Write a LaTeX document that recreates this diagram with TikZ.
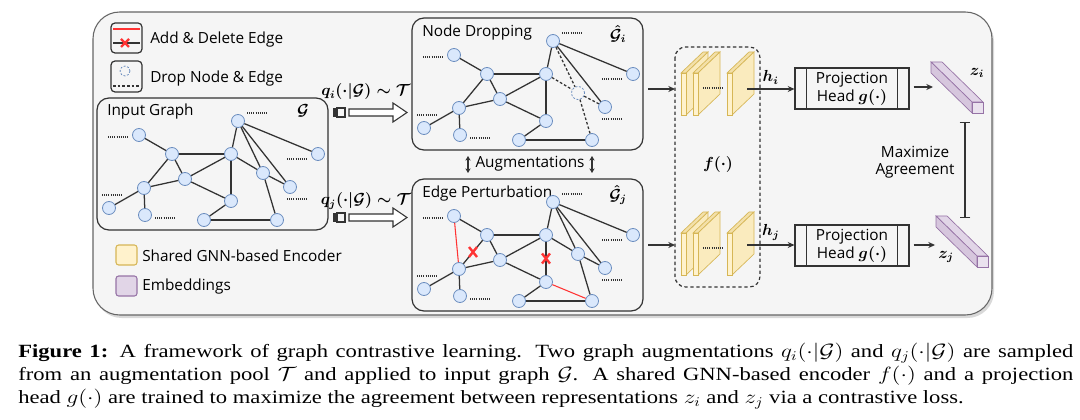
\documentclass[tikz,border=0pt]{standalone}
\usepackage{amsmath,amssymb}
\usepackage{fontspec}
\setmainfont{Liberation Serif}
\setsansfont{Open Sans}
\usepackage{xcolor}
\usetikzlibrary{calc,arrows.meta}
\definecolor{ink}{HTML}{333333}
\definecolor{bgfill}{HTML}{F5F5F5}
\definecolor{bgline}{HTML}{666666}
\definecolor{nodefill}{HTML}{DAE8FC}
\definecolor{nodeline}{HTML}{6C8EBF}
\definecolor{edgered}{HTML}{FF3333}
\definecolor{encfill}{HTML}{FFF2CC}
\definecolor{encline}{HTML}{D6B656}
\definecolor{embfill}{HTML}{E1D5E7}
\definecolor{embline}{HTML}{9673A6}
\tikzset{
  outer/.style={draw=bgline, fill=bgfill, line width=0.8pt, rounded corners=20pt},
  gbox/.style={draw=ink, line width=0.9pt, rounded corners=9pt},
  gnode/.style={circle, draw=nodeline, fill=nodefill, line width=0.6pt, minimum size=9.75pt, inner sep=0pt},
  dropnode/.style={circle, draw=nodeline, dash pattern=on 1.5pt off 1.2pt, line width=0.6pt, minimum size=9.75pt, inner sep=0pt},
  gedge/.style={draw=ink, line width=0.95pt},
  dropedge/.style={draw=ink, line width=0.95pt, dash pattern=on 2pt off 1.5pt},
  addedge/.style={draw=edgered, line width=0.8pt},
  delmark/.style={draw=edgered, line width=1.8pt},
  dots/.style={draw=ink, line width=1pt, dash pattern=on 0.8pt off 0.8pt},
  lab/.style={font=\sffamily\fontsize{11.5}{13}\selectfont, text=black, inner sep=0pt},
  mlab/.style={font=\fontsize{11.5}{13}\selectfont, text=black, inner sep=0pt},
  legbox/.style={draw=ink, line width=0.9pt, rounded corners=3pt},
  conn/.style={-{Stealth[length=5pt,width=4.5pt]}, draw=ink, line width=0.9pt},
  projbox/.style={draw=ink, line width=0.9pt, minimum width=85.5pt, minimum height=30.75pt, inner sep=0pt, align=center, font=\sffamily\fontsize{11.5}{13.5}\selectfont},
  slabfront/.style={fill=encfill, draw=encline, line width=0.5pt},
  slabside/.style={fill=encfill!88!encline, draw=encline, line width=0.5pt},
  slabtop/.style={fill=encfill!70!encline, draw=encline, line width=0.5pt},
  embfront/.style={fill=embfill!70!white, draw=embline, line width=0.5pt},
  embtop/.style={fill=embfill, draw=embline, line width=0.5pt},
  embside/.style={fill=embfill!85!embline, draw=embline, line width=0.5pt}
}
% one graph: 13 nodes, node 8 with its own style, and the dotted stubs
\newcommand{\graphnodes}[2]{%
  \foreach \k/\x/\y in {1/139/135, 2/172/154, 3/231/154, 4/238/121, 5/318/154,
      6/185/179, 7/144/188, 9/290/187, 10/109/208, 11/145/215,
      12/231/201, 13/204/220, 14/277/220}
    \node[gnode] (#1-\k) at (\x,\y) {};
  \node[#2] (#1-8) at (263,173) {};
  \foreach \x/\y in {118/137, 257/113, 297/159, 112/195, 165/218, 297/199}
    \draw[dots] (\x-10,\y) -- (\x+10,\y);
}
\newcommand{\coreedges}{1/2, 2/3, 2/6, 3/4, 3/6, 4/5, 4/9, 6/7, 6/12, 7/10, 7/11, 12/13, 13/14}
\newcommand{\dropedges}{3/8, 4/8, 8/9, 8/14}
% encoder slab, front strip top-left at (#1,#2)
\newcommand{\slab}[2]{%
  \filldraw[slabtop] (#1,#2) -- ++(5,0) -- ++(22,-21) -- ++(-5,0) -- cycle;
  \filldraw[slabside] (#1+5,#2) -- ++(22,-21) -- ++(0,42) -- ++(-22,21) -- cycle;
  \filldraw[slabfront] (#1,#2) rectangle ++(5,42);
}
% embedding bar, front square top-left at (#1,#2)
\newcommand{\embbar}[2]{%
  \filldraw[embtop] (#1,#2) -- ++(11,0) -- ++(-41,-40) -- ++(-11,0) -- cycle;
  \filldraw[embside] (#1,#2) -- ++(0,11) -- ++(-41,-40) -- ++(0,-11) -- cycle;
  \filldraw[embfront] (#1,#2) rectangle ++(11,11);
}

\begin{document}
\begin{tikzpicture}[x=0.75pt, y=-0.75pt]
  \useasboundingbox[fill=white] (0,0) rectangle (1080,420);

  % frame
  \fill[black!15, rounded corners=20pt] (95,15) rectangle (994,318);
  \draw[outer] (93,12) rectangle (992,315);

  % legend
  \draw[legbox] (111,23) rectangle (142,53);
  \draw[addedge] (113,29) -- (140,29);
  \draw[gedge] (113,43) -- (140,43);
  \draw[delmark] (125,43) +(-4,-4) -- +(4,4) +(-4,4) -- +(4,-4);
  \node[lab, anchor=west] (leg-edge) at (150,40) {Add \& Delete Edge};
  \draw[legbox] (111,61) rectangle (142,92);
  \draw[draw=nodeline, dash pattern=on 1.5pt off 1.2pt, line width=0.6pt] (125,71) circle (5);
  \draw[dropedge] (113,86) -- (140,86);
  \node[lab, anchor=west] (leg-drop) at (150,79) {Drop Node \& Edge};
  \filldraw[fill=encfill, draw=encline, line width=0.8pt, rounded corners=2pt] (116,245) rectangle (137,265);
  \node[lab, anchor=west] (leg-enc) at (142,256) {Shared GNN-based Encoder};
  \filldraw[fill=embfill, draw=embline, line width=0.8pt, rounded corners=2pt] (116,276) rectangle (137,296);
  \node[lab, anchor=west] (leg-emb) at (142,287) {Embeddings};

  % input graph
  \draw[gbox] (97,98) rectangle (328,230);
  \node[lab, anchor=west] at (107,112) {Input Graph};
  \node[mlab] at (303,111) {$\boldsymbol{\mathcal{G}}$};
  \graphnodes{in}{gnode}
  \foreach \a/\b in \coreedges \draw[gedge] (in-\a) -- (in-\b);
  \foreach \a/\b in \dropedges \draw[gedge] (in-\a) -- (in-\b);
  \draw[gedge] (in-2) -- (in-7);
  \draw[gedge] (in-3) -- (in-12);

  % node dropping
  \begin{scope}[shift={(315,-80)}]
    \draw[gbox] (97,98) rectangle (328,230);
    \coordinate (nd-out) at (333,169);
    \node[lab, anchor=west] at (107,113) {Node Dropping};
    \node[mlab] at (303,114) {$\boldsymbol{\hat{\mathcal{G}}_i}$};
    \graphnodes{nd}{dropnode}
  \end{scope}
  \foreach \a/\b in \coreedges \draw[gedge] (nd-\a) -- (nd-\b);
  \foreach \a/\b in \dropedges \draw[dropedge] (nd-\a) -- (nd-\b);
  \draw[gedge] (nd-2) -- (nd-7);
  \draw[gedge] (nd-3) -- (nd-12);

  % edge perturbation
  \begin{scope}[shift={(315,81)}]
    \draw[gbox] (97,98) rectangle (328,230);
    \coordinate (ep-out) at (333,164);
    \node[lab, anchor=west] at (107,113) {Edge Perturbation};
    \node[mlab] at (303,114) {$\boldsymbol{\hat{\mathcal{G}}_j}$};
    \graphnodes{ep}{gnode}
  \end{scope}
  \foreach \a/\b in \coreedges \draw[gedge] (ep-\a) -- (ep-\b);
  \foreach \a/\b in \dropedges \draw[gedge] (ep-\a) -- (ep-\b);
  \draw[gedge] (ep-2) -- (ep-7);
  \draw[gedge] (ep-3) -- (ep-12);
  \draw[addedge] (ep-1) -- (ep-7);
  \draw[addedge] (ep-12) -- (ep-14);
  \draw[delmark] ($(ep-2)!0.5!(ep-7)$) +(-4,-5) -- +(4,5) +(-4,5) -- +(4,-5);
  \draw[delmark] ($(ep-3)!0.5!(ep-12)$) +(-4,-5) -- +(4,5) +(-4,5) -- +(4,-5);

  % sampling arrows
  \foreach \yy/\ly/\s in {112.5/92/i, 217.5/201/j} {
    \fill[ink] (333,\yy-4.5) rectangle (337,\yy+4.5);
    \draw[ink, line width=0.8pt] (337,\yy-4.5) rectangle (345,\yy+4.5);
    \draw[ink, line width=0.8pt, fill=white] (349,\yy-3.5) -- (393,\yy-3.5) -- (393,\yy-9.5)
      -- (407,\yy) -- (393,\yy+9.5) -- (393,\yy+3.5) -- (349,\yy+3.5) -- cycle;
    \node[mlab] at (366,\ly) {$\boldsymbol{q_\s(\cdot|\mathcal{G})\sim\mathcal{T}}$};
  }

  % augmentations
  \node[lab] (aug) at (530,164) {Augmentations};
  \draw[{Stealth[length=3.5pt,width=4pt]}-{Stealth[length=3.5pt,width=4pt]}, ink, line width=1pt] (468,156) -- (468,173);
  \draw[{Stealth[length=3.5pt,width=4pt]}-{Stealth[length=3.5pt,width=4pt]}, ink, line width=1pt] (592,156) -- (592,173);

  % encoder
  \draw[ink, line width=0.9pt, dash pattern=on 2.5pt off 2pt, rounded corners=8pt] (675,47) rectangle (760,287);
  \foreach \dy in {0,160} {
    \slab{681}{73+\dy}
    \slab{693}{73+\dy}
    \draw[dots] (703,88+\dy) -- (723,88+\dy);
    \slab{727}{73+\dy}
  }
  \node[mlab] (f-lab) at (718,165) {$\boldsymbol{f(\cdot)}$};
  \coordinate (enc-i) at (675,89);
  \coordinate (enc-j) at (675,245);
  \draw[conn] (nd-out |- enc-i) -- (enc-i);
  \draw[conn] (ep-out |- enc-j) -- (enc-j);

  % projection heads
  \node[projbox] (ph-i) at (852,88.5) {Projection\\Head $\boldsymbol{g(\cdot)}$};
  \node[projbox] (ph-j) at (852,245.5) {Projection\\Head $\boldsymbol{g(\cdot)}$};
  \foreach \p in {ph-i, ph-j} {
    \draw[ink, line width=0.9pt] ([xshift=9pt]\p.north west) -- ([xshift=9pt]\p.south west);
    \draw[ink, line width=0.9pt] ([xshift=-9pt]\p.north east) -- ([xshift=-9pt]\p.south east);
  }
  \coordinate (h-i) at (747,89);
  \coordinate (h-j) at (747,245);
  \draw[conn] (h-i) -- (ph-i.west |- h-i) node[mlab, midway, above=3pt] {$\boldsymbol{h_i}$};
  \draw[conn] (h-j) -- (ph-j.west |- h-j) node[mlab, midway, above=3pt] {$\boldsymbol{h_j}$};

  % embeddings
  \embbar{972}{102}
  \embbar{977}{256}
  \coordinate (emb-i) at (933,87);
  \coordinate (emb-j) at (935,245);
  \draw[conn] (ph-i.east |- emb-i) ++(4,0) -- (emb-i);
  \draw[conn] (ph-j.east |- emb-j) ++(4,0) -- (emb-j);
  \node[mlab] (z-i) at (977,73) {$\boldsymbol{z_i}$};
  \node[mlab] (z-j) at (946,257) {$\boldsymbol{z_j}$};

  % agreement
  \coordinate (agree-top) at (965,122);
  \coordinate (agree-bot) at (965,218);
  \draw[{Bar[width=8pt]}-{Bar[width=8pt]}, ink, line width=0.9pt] (agree-top) -- (agree-bot);
  \node[lab, align=center] (agree) at (915,162) {Maximize\\Agreement};

  % caption
  \node[anchor=north west, inner sep=0pt, xscale=1.21, transform shape, text width=654pt, align=justify,
        font=\fontsize{14}{17.25}\selectfont] (caption) at (18,343)
    {\hyphenpenalty=10000 \textbf{Figure 1:} A framework of graph contrastive learning. Two graph augmentations $q_i(\cdot|\mathcal{G})$ and $q_j(\cdot|\mathcal{G})$ are sampled\linebreak
     from an augmentation pool $\mathcal{T}$ and applied to input graph $\mathcal{G}$. A shared GNN-based encoder $f(\cdot)$ and a projection\linebreak
     head $g(\cdot)$ are trained to maximize the agreement between representations $z_i$ and $z_j$ via a contrastive loss.};
\end{tikzpicture}
\end{document}
